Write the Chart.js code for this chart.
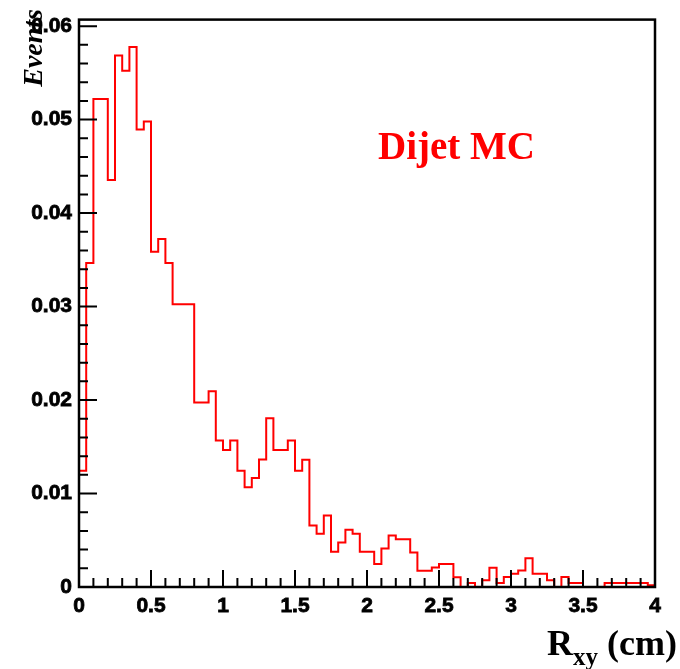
<!DOCTYPE html>
<html>
<head>
<meta charset="utf-8">
<script src="https://cdn.jsdelivr.net/npm/chart.js@4.4.1/dist/chart.umd.min.js"></script>
<style>
  html, body { margin: 0; padding: 0; background: #fff; }
</style>
</head>
<body>
<canvas id="rxy" width="680" height="669"></canvas>
<script>
// Histogram binning (80 bins of 0.05 cm from 0 to 4 cm).
const BIN_WIDTH = 0.05;
const X_MIN = 0;
const X_MAX = 4;
const Y_MIN = 0;
const Y_MAX = 0.0607;

// Normalised bin contents.
const binContents = [
  0.01244, 0.03465, 0.0522, 0.0522, 0.04353, 0.05686, 0.05524, 0.05777, 0.04893, 0.04981,
  0.03587, 0.03724, 0.03465, 0.03026, 0.03026, 0.03026, 0.01974, 0.01974, 0.02093, 0.01566,
  0.01465, 0.01566, 0.01244, 0.01068, 0.01166, 0.01363, 0.01805, 0.01465, 0.01465, 0.01566,
  0.01244, 0.0136, 0.00658, 0.0057, 0.00766, 0.00377, 0.00476, 0.00613, 0.0057, 0.00377,
  0.00377, 0.00247, 0.00413, 0.0055, 0.0051, 0.0051, 0.0037, 0.00174, 0.00174, 0.00209,
  0.00247, 0.00247, 0.00105, 0, 0.00044, 0, 0.00072, 0.00205, 0.00044, 0.00107,
  0.00142, 0.00177, 0.00307, 0.00142, 0.00142, 0.00072, 0, 0.00107, 0.00044, 0.00044,
  0, 0, 0, 0.00044, 0.00044, 0.00044, 0.00044, 0.00044, 0.00044, 0.0002,
];

const xTickValues = [0, 0.5, 1, 1.5, 2, 2.5, 3, 3.5, 4];
const xTickLabels = ["0", "0.5", "1", "1.5", "2", "2.5", "3", "3.5", "4"];
const yTickValues = [0, 0.01, 0.02, 0.03, 0.04, 0.05, 0.06];
const yTickLabels = ["0", "0.01", "0.02", "0.03", "0.04", "0.05", "0.06"];

// Step outline: one point per bin low edge, closed down to zero at both ends.
const histPoints = [{ x: X_MIN, y: 0 }];
binContents.forEach((v, i) => histPoints.push({ x: X_MIN + i * BIN_WIDTH, y: v }));
histPoints.push({ x: X_MAX, y: binContents[binContents.length - 1] });
histPoints.push({ x: X_MAX, y: 0 });

const SANS = '"Liberation Sans", Arial, sans-serif';
const SERIF = '"Liberation Serif", "Times New Roman", serif';

// ROOT-style frame: inward ticks, box, and the free-floating texts.
const rootFrame = {
  id: "rootFrame",
  afterDatasetsDraw(chart) {
    const { ctx, chartArea: a, scales: { x, y } } = chart;
    ctx.save();
    ctx.strokeStyle = "#000";
    ctx.lineWidth = 2;
    ctx.beginPath();
    for (let k = 0; k <= 30; k++) {
      const py = y.getPixelForValue(k * 0.002);
      const len = k % 5 === 0 ? 18 : 9;
      ctx.moveTo(a.left, py);
      ctx.lineTo(a.left + len, py);
    }
    for (let k = 0; k <= 40; k++) {
      const px = x.getPixelForValue(k * 0.1);
      const len = k % 5 === 0 ? 17 : 9;
      ctx.moveTo(px, a.bottom);
      ctx.lineTo(px, a.bottom - len);
    }
    ctx.stroke();
    ctx.lineWidth = 2.5;
    ctx.strokeRect(a.left, a.top, a.right - a.left, a.bottom - a.top);

    // label inside the pad
    ctx.fillStyle = "#ff0000";
    ctx.font = "bold 39px " + SERIF;
    ctx.textAlign = "left";
    ctx.textBaseline = "alphabetic";
    ctx.fillText("Dijet MC", 378, 159);

    // y title, rotated, top aligned
    ctx.fillStyle = "#000";
    ctx.save();
    ctx.translate(42, 9);
    ctx.rotate(-Math.PI / 2);
    ctx.textAlign = "right";
    ctx.font = "italic bold 28px " + SERIF;
    ctx.fillText("Events", 0, 0);
    ctx.restore();

    // x title with subscript, right aligned
    const big = "bold 36px " + SERIF;
    const sub = "bold 25px " + SERIF;
    ctx.font = big;
    const wR = ctx.measureText("R").width;
    const wTail = ctx.measureText(" (cm)").width;
    ctx.font = sub;
    const wSub = ctx.measureText("xy").width;
    let tx = 677 - (wR + wSub + wTail);
    ctx.textAlign = "left";
    ctx.font = big;
    ctx.fillText("R", tx, 655);
    tx += wR;
    ctx.font = sub;
    ctx.fillText("xy", tx, 665);
    tx += wSub;
    ctx.font = big;
    ctx.fillText(" (cm)", tx, 655);
    ctx.restore();
  },
};

const tickFont = { family: SANS, weight: "bold", size: 21 };

new Chart(document.getElementById("rxy"), {
  type: "line",
  data: {
    datasets: [{
      data: histPoints,
      stepped: true,
      borderColor: "#ff0000",
      borderWidth: 2,
      pointRadius: 0,
      fill: false,
      clip: false,
    }],
  },
  options: {
    responsive: false,
    animation: false,
    layout: { padding: { top: 11, right: 25, left: 0, bottom: 0 } },
    plugins: { legend: { display: false }, tooltip: { enabled: false } },
    scales: {
      x: {
        type: "linear",
        min: X_MIN,
        max: X_MAX,
        afterBuildTicks: (s) => { s.ticks = xTickValues.map((v) => ({ value: v })); },
        afterFit: (s) => { s.height = 82; },
        grid: { display: false, drawTicks: false },
        border: { display: false },
        ticks: {
          autoSkip: false,
          maxRotation: 0,
          padding: 7,
          color: "#000",
          textStrokeColor: "#000",
          textStrokeWidth: 0.8,
          font: tickFont,
          callback: (v, i) => xTickLabels[i],
        },
      },
      y: {
        type: "linear",
        min: Y_MIN,
        max: Y_MAX,
        afterBuildTicks: (s) => { s.ticks = yTickValues.map((v) => ({ value: v })); },
        afterFit: (s) => { s.width = 79; },
        grid: { display: false, drawTicks: false },
        border: { display: false },
        ticks: {
          padding: 7,
          color: "#000",
          textStrokeColor: "#000",
          textStrokeWidth: 0.8,
          font: tickFont,
          callback: (v, i) => yTickLabels[i],
        },
      },
    },
  },
  plugins: [rootFrame],
});
</script>
</body>
</html>
